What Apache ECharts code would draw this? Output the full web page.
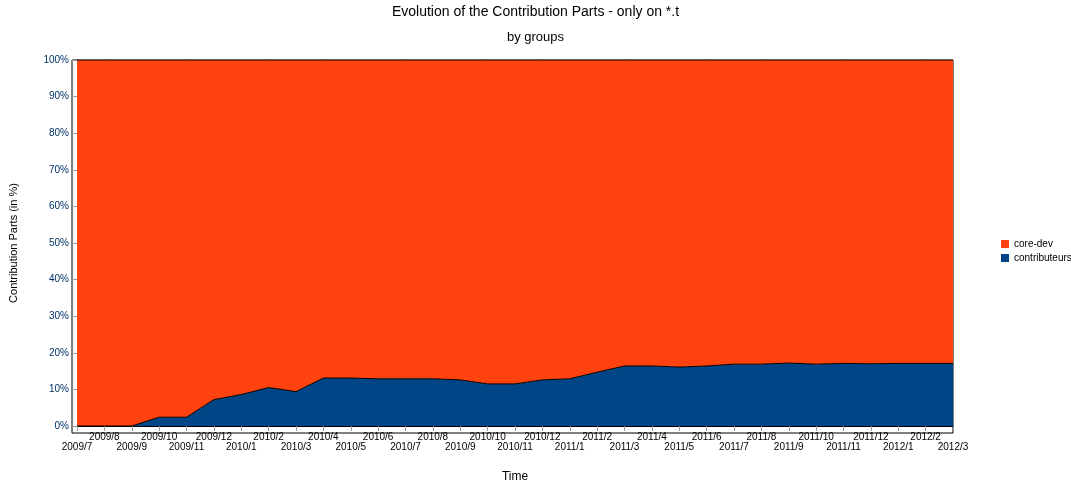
<!DOCTYPE html><html><head><meta charset="utf-8"><script src="https://cdn.jsdelivr.net/npm/echarts@6/dist/echarts.min.js"></script></head><body style="margin:0"><div id="c" style="width:1071px;height:488px"></div><script>
const months=['2009/7','2009/8','2009/9','2009/10','2009/11','2009/12','2010/1','2010/2','2010/3','2010/4','2010/5','2010/6','2010/7','2010/8','2010/9','2010/10','2010/11','2010/12','2011/1','2011/2','2011/3','2011/4','2011/5','2011/6','2011/7','2011/8','2011/9','2011/10','2011/11','2011/12','2012/1','2012/2','2012/3'];
const contributeurs=[0,0,0,2.4,2.4,7.2,8.6,10.5,9.4,13.1,13.1,12.9,12.9,12.9,12.6,11.5,11.5,12.6,12.9,14.7,16.4,16.4,16.1,16.4,16.9,16.9,17.2,16.9,17.1,17.0,17.1,17.1,17.1];
const coreDev=contributeurs.map(v=>+(100-v).toFixed(1));
const F='Liberation Sans';
const ch=echarts.init(document.getElementById('c'));
ch.setOption({
 animation:false,
 textStyle:{fontFamily:F},
 title:{text:'Evolution of the Contribution Parts - only on *.t',subtext:'by groups',left:'center',top:0,
  textStyle:{fontSize:14,fontWeight:'normal',color:'#000',fontFamily:F},subtextStyle:{fontSize:13,color:'#000',fontFamily:F},itemGap:12},
 legend:{orient:'vertical',left:996,top:234,itemWidth:8,itemHeight:8,itemGap:4,icon:'rect',
  textStyle:{fontSize:10,color:'#000'},data:['core-dev','contributeurs']},
 grid:{left:72,right:118,top:60,bottom:55},
 xAxis:{type:'category',data:months,boundaryGap:false,name:'Time',nameLocation:'middle',nameGap:45,nameTextStyle:{fontSize:12,color:'#000'},
  axisLine:{lineStyle:{color:'#000'}},axisTick:{interval:0,lineStyle:{color:'#999'}},
  axisLabel:{interval:0,fontSize:10,color:'#000',margin:6,formatter:(v,i)=>i%2==0?'\n'+v:v}},
 yAxis:{type:'value',min:0,max:100,interval:10,name:'Contribution Parts (in %)',nameLocation:'middle',nameGap:58,nameTextStyle:{fontSize:11,color:'#000'},
  axisLine:{show:true,lineStyle:{color:'#000'}},axisTick:{show:true,lineStyle:{color:'#999'}},splitLine:{show:false},
  axisLabel:{fontSize:10,color:'#003366',formatter:'{value}%'}},
 series:[
  {name:'contributeurs',type:'line',stack:'a',data:contributeurs,symbol:'none',lineStyle:{color:'#000',width:1},itemStyle:{color:'#004586'},areaStyle:{color:'#004586',opacity:1}},
  {name:'core-dev',type:'line',stack:'a',data:coreDev,symbol:'none',lineStyle:{color:'#000',width:1},itemStyle:{color:'#ff420e'},areaStyle:{color:'#ff420e',opacity:1}}
 ],
 graphic:[
  {type:'text',left:384,top:188,style:{text:'Core-Dev',fontSize:24,fill:'#000',fontFamily:'DejaVu Sans'}},
  {type:'text',left:653,top:392,style:{text:'Contributors',fontSize:24,fill:'#fff',fontFamily:'DejaVu Sans'}},
  {type:'rect',shape:{x:72,y:60,width:881,height:373},style:{fill:'none',stroke:'#000',lineWidth:1}}
 ]
});
</script></body></html>
